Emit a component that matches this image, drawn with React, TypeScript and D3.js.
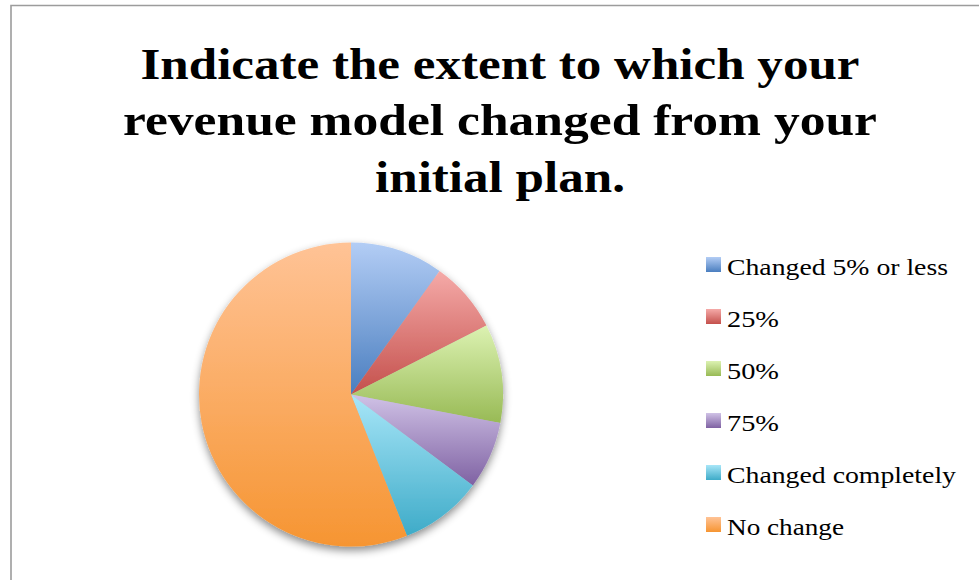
import React from "react";
import * as d3 from "d3";

const categories = ["Changed 5% or less", "25%", "50%", "75%", "Changed completely", "No change"];
const values = [9.9, 7.6, 10.5, 7.2, 8.8, 56.0];
const topColors = ["#b3cdf5", "#f5aaa8", "#dcf2b2", "#d0c2e6", "#a8e6f8", "#ffc396"];
const bottomColors = ["#4a7ebf", "#c4504c", "#98ba55", "#7f62a3", "#3eabc8", "#f69532"];
const titleLines = ["Indicate the extent to which your", "revenue model changed from your", "initial plan."];
const titleWidths = [719, 754, 250];
const legendWidths = [221, 52, 52, 52, 229, 117];

export default function App() {
  const W = 979, H = 580;
  const cx = 351, cy = 394.5, r = 152;
  const pie = d3.pie<number>().sort(null).startAngle(0).endAngle(2 * Math.PI)(values);
  const arc = d3.arc<d3.PieArcDatum<number>>().innerRadius(0).outerRadius(r);
  const titleY = d3.scaleLinear().domain([0, 1]).range([78.5, 135]);
  const legendY = d3.scaleLinear().domain([0, 1]).range([275, 327]);

  return (
    <svg width={W} height={H} style={{ position: "absolute", left: 0, top: 0 }}>
      <defs>
        {categories.map((c, i) => (
          <linearGradient key={c} id={`g${i}`} x1="0" y1="0" x2="0" y2="1">
            <stop offset="0%" stopColor={topColors[i]} />
            <stop offset="100%" stopColor={bottomColors[i]} />
          </linearGradient>
        ))}
        <filter id="shadow" x="-20%" y="-20%" width="140%" height="140%">
          <feDropShadow dx="0" dy="4" stdDeviation="4" floodColor="#000" floodOpacity="0.45" />
        </filter>
      </defs>
      <rect x={0} y={0} width={W} height={H} fill="#fff" />
      <path d={`M11,${H} L11,5.5 L${W},5.5`} fill="none" stroke="#9c9c9c" strokeWidth={1.6} />
      {titleLines.map((t, i) => (
        <text
          key={t}
          x={500}
          y={titleY(i)}
          textAnchor="middle"
          fontFamily="'Liberation Serif', serif"
          fontWeight="bold"
          fontSize={45}
          textLength={titleWidths[i]}
          lengthAdjust="spacingAndGlyphs"
          fill="#000"
        >
          {t}
        </text>
      ))}
      <g transform={`translate(${cx},${cy})`} filter="url(#shadow)">
        {pie.map((d, i) => (
          <path key={categories[i]} d={arc(d) || ""} fill={`url(#g${i})`} />
        ))}
      </g>
      {categories.map((c, i) => (
        <g key={c}>
          <rect x={706} y={legendY(i) - 18} width={15} height={15} fill={`url(#g${i})`} />
          <text
            x={727}
            y={legendY(i)}
            fontFamily="'Liberation Serif', serif"
            fontSize={24}
            textLength={legendWidths[i]}
            lengthAdjust="spacingAndGlyphs"
            fill="#000"
          >
            {c}
          </text>
        </g>
      ))}
    </svg>
  );
}
